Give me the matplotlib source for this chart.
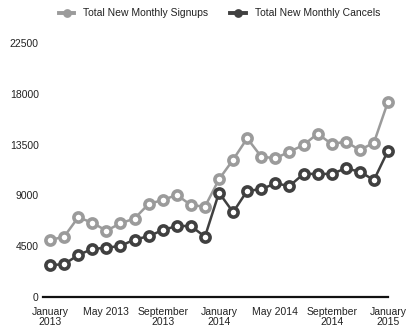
import matplotlib
matplotlib.use("Agg")
import matplotlib.pyplot as plt
from matplotlib.lines import Line2D
from matplotlib.patches import Rectangle

plt.rcParams['font.family'] = ['Liberation Sans', 'DejaVu Sans']

# Monthly totals, January 2013 .. January 2015
months = list(range(25))
signups = [5050, 5340, 7060, 6580, 5870, 6530, 6950, 8240, 8590, 9040,
           8150, 8000, 10430, 12160, 14060, 12430, 12290, 12870, 13460,
           14470, 13550, 13760, 13020, 13670, 17300]
cancels = [2830, 2900, 3720, 4250, 4370, 4520, 5090, 5380, 5930, 6290,
           6290, 5340, 9240, 7510, 9410, 9540, 10070, 9830, 10900,
           10910, 10900, 11400, 11100, 10360, 12960]

tick_pos = [0, 4, 8, 12, 16, 20, 24]
tick_labels = ["January\n2013", "May 2013", "September\n2013", "January\n2014",
               "May 2014", "September\n2014", "January\n2015"]
y_ticks = [0, 4500, 9000, 13500, 18000, 22500]

series_names = ["Total New Monthly Signups", "Total New Monthly Cancels"]
c_sign = "#9b9b9b"
c_canc = "#404040"

fig = plt.figure(figsize=(4.12, 3.31), dpi=100)
ax = fig.add_axes([43 / 412, 34 / 331, 345 / 412, 254 / 331])

style = dict(lw=1.8, marker="o", ms=6.6, mew=2.6, markerfacecolor="white",
             clip_on=False, zorder=3)
ax.plot(months, signups, color=c_sign, markeredgecolor=c_sign, **style)
ax.plot(months, cancels, color=c_canc, markeredgecolor=c_canc, **style)

ax.set_xlim(-0.5, 24)
ax.set_ylim(0, 22500)
ax.set_yticks(y_ticks)
ax.set_yticklabels([str(v) for v in y_ticks])
ax.set_xticks(tick_pos)
ax.set_xticklabels(tick_labels, linespacing=1.08)

for s in ["top", "right", "left"]:
    ax.spines[s].set_visible(False)
ax.spines["bottom"].set_linewidth(1.6)
ax.spines["bottom"].set_color("#111111")
ax.tick_params(axis="both", length=0, labelsize=7.5, colors="#222222")
ax.tick_params(axis="x", pad=7)
ax.tick_params(axis="y", pad=3)

handles = [Line2D([], [], color=c, lw=2.8, marker="o", ms=4.5, mew=1.8,
                  markerfacecolor=c, markeredgecolor=c)
           for c in (c_sign, c_canc)]
fig.legend(handles, series_names, loc="center", ncol=2,
           bbox_to_anchor=(219.5 / 412, 1 - 13.5 / 331), frameon=False,
           fontsize=7.5, handlelength=1.5, handletextpad=0.85,
           columnspacing=2.1, labelcolor="#222222")

# the page is trimmed just above the legend line
fig.patches.append(Rectangle((0, 1 - 7.0 / 331), 1, 7.0 / 331,
                             transform=fig.transFigure, facecolor="white",
                             edgecolor="none", zorder=10))

fig.savefig("out.png", dpi=100, facecolor="white")
